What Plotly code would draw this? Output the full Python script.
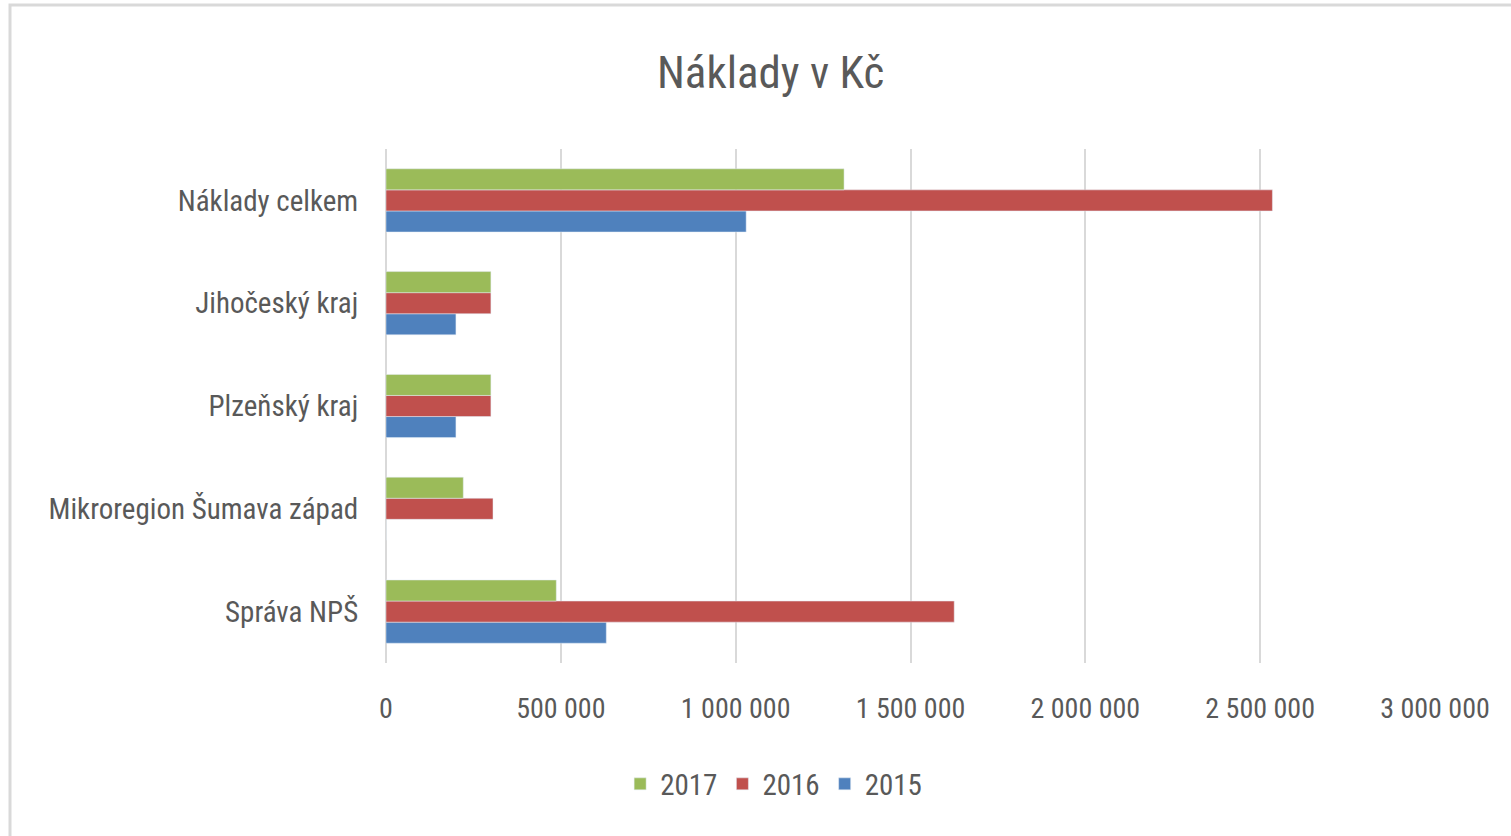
import plotly.graph_objects as go

categories = ["Správa NPŠ", "Mikroregion Šumava západ", "Plzeňský kraj", "Jihočeský kraj", "Náklady celkem"]
v2015 = [630000, 0, 200000, 200000, 1030000]
v2016 = [1625000, 306000, 300000, 300000, 2535000]
v2017 = [487000, 221000, 300000, 300000, 1310000]
tick_vals = [0, 500000, 1000000, 1500000, 2000000, 2500000, 3000000]
tick_text = ["0", "500 000", "1 000 000", "1 500 000", "2 000 000", "2 500 000", "3 000 000"]

FONT = "Liberation Sans Narrow, Arial Narrow, Roboto Condensed, DejaVu Sans Condensed, Open Sans, sans-serif"
GRAY = "#595959"

fig = go.Figure()
fig.add_trace(go.Bar(y=categories, x=v2015, name="2015", orientation="h", marker_color="#4f81bd"))
fig.add_trace(go.Bar(y=categories, x=v2016, name="2016", orientation="h", marker_color="#c0504d"))
fig.add_trace(go.Bar(y=categories, x=v2017, name="2017", orientation="h", marker_color="#9bbb59"))

W, H = 1511, 836
L, R, T, B = 386, 1435, 149, 663

def px(x):
    return (x - L) / (R - L)

def py(y):
    return (B - y) / (B - T)

fig.update_layout(
    width=W, height=H,
    margin=dict(l=L, r=W - R, t=T, b=H - B, pad=0),
    paper_bgcolor="white", plot_bgcolor="white",
    barmode="group", bargap=0.385, bargroupgap=0,
    font=dict(family=FONT, color=GRAY, size=28),
    title=dict(text="Náklady v Kč", x=0.51, xref="container", xanchor="center",
               y=1 - 72 / H, yref="container", yanchor="middle",
               font=dict(family=FONT, size=45, color=GRAY)),
    xaxis=dict(range=[0, 3000000], tickvals=tick_vals, ticktext=tick_text,
               showgrid=True, gridcolor="#d9d9d9", gridwidth=1.5,
               zeroline=True, zerolinecolor="#d9d9d9", zerolinewidth=1.5,
               showline=False, ticks="outside", ticklen=20, tickcolor="rgba(0,0,0,0)",
               tickfont=dict(family=FONT, size=28, color=GRAY), fixedrange=True),
    yaxis=dict(showgrid=False, showline=False, ticks="outside", ticklen=21,
               tickcolor="rgba(0,0,0,0)",
               tickfont=dict(family=FONT, size=29, color=GRAY), fixedrange=True),
    legend=dict(orientation="h", x=0.512, xref="container", xanchor="center",
                y=1 - 784 / H, yref="container", yanchor="middle",
                traceorder="reversed", font=dict(family=FONT, size=29, color=GRAY),
                itemwidth=30),
    shapes=[dict(type="rect", xref="paper", yref="paper",
                 x0=px(10), x1=px(1530), y0=py(850), y1=py(5),
                 line=dict(color="#d9d9d9", width=3), fillcolor="rgba(0,0,0,0)")],
    showlegend=True,
)

fig.write_html("out.html", config={"displayModeBar": False})
